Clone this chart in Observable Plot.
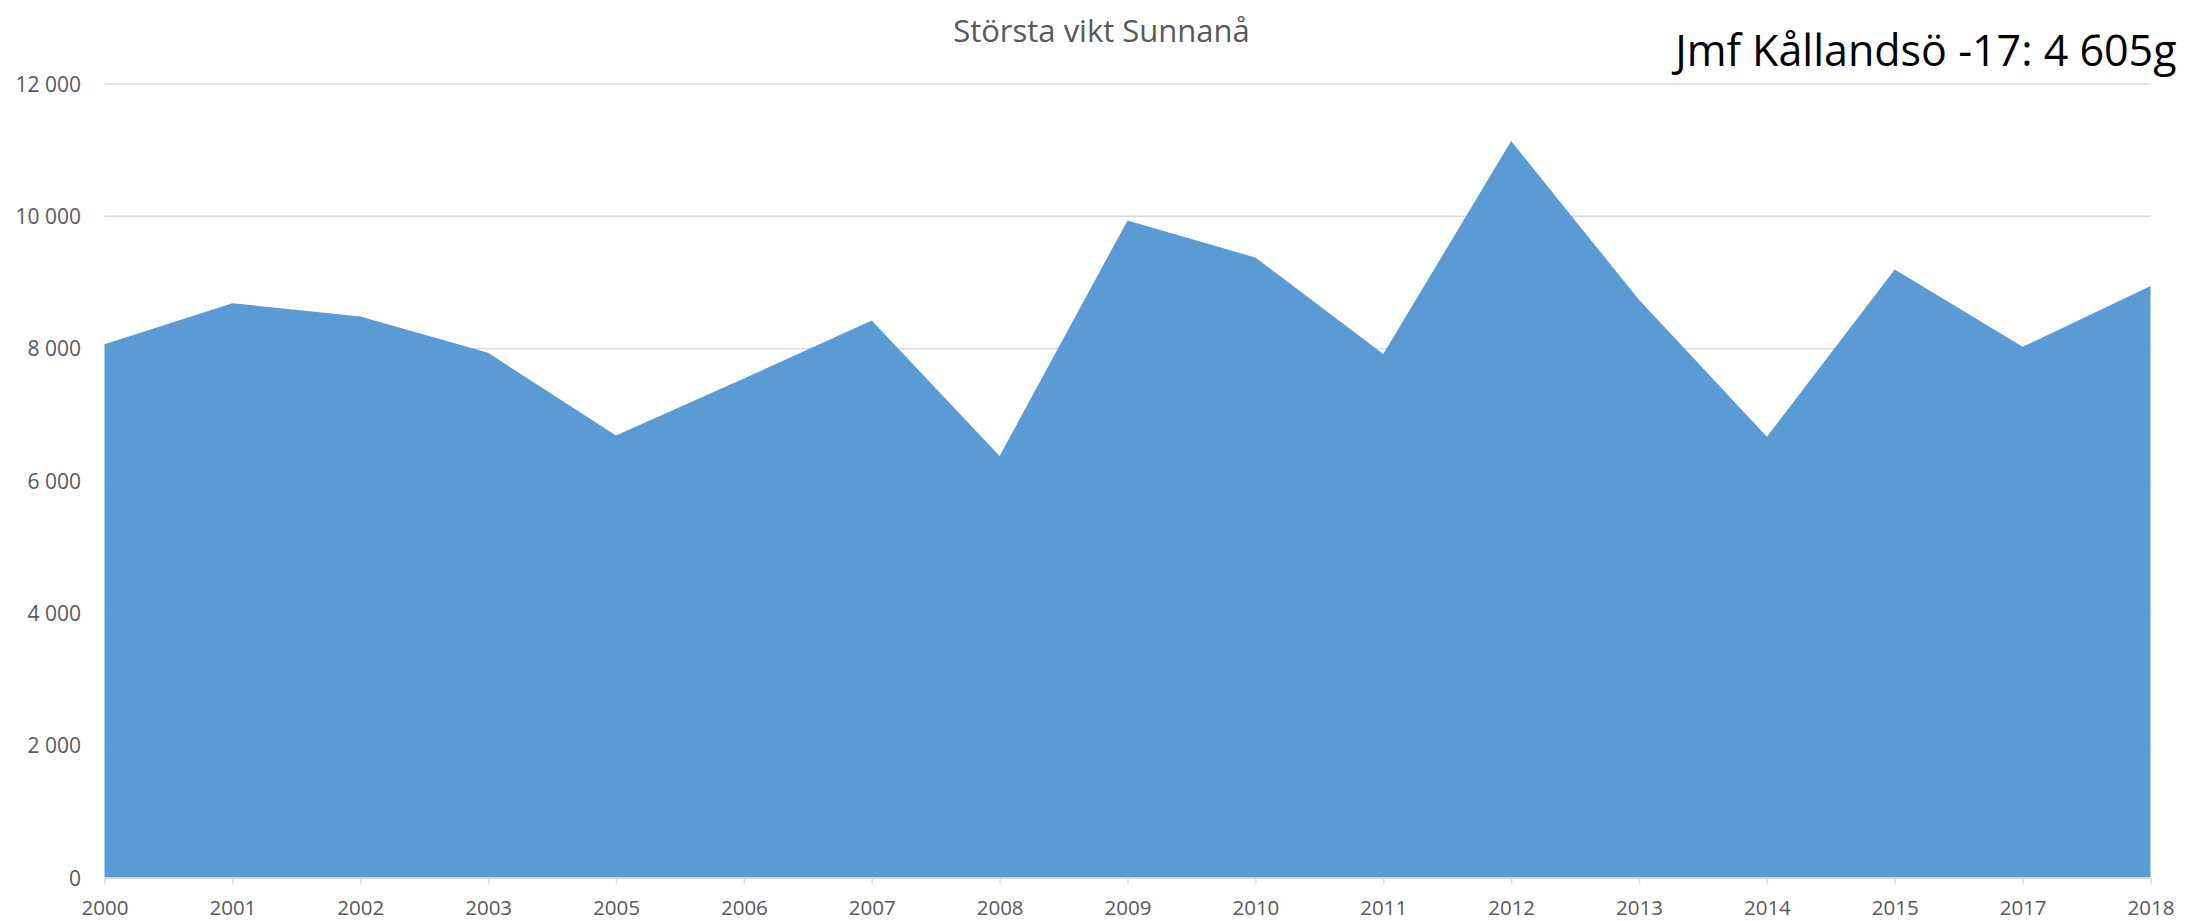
<!DOCTYPE html>
<html>
<head>
<meta charset="utf-8">
<script src="https://cdn.jsdelivr.net/npm/d3@7"></script>
<script src="https://cdn.jsdelivr.net/npm/@observablehq/plot@0.6"></script>
<style>
  html, body { margin: 0; padding: 0; background: #fff; }
  #chart svg { display: block; }
</style>
</head>
<body>
<div id="chart"></div>
<script>
// Data
const years = ["2000","2001","2002","2003","2005","2006","2007","2008","2009","2010","2011","2012","2013","2014","2015","2017","2018"];
const values = [8060, 8680, 8480, 7930, 6680, 7540, 8420, 6370, 9930, 9370, 7910, 11130, 8730, 6660, 9190, 8020, 8940];
const yTicks = [0, 2000, 4000, 6000, 8000, 10000, 12000];
const title = "Största vikt Sunnanå";
const note = "Jmf Kållandsö -17: 4 605g";

const data = years.map((year, i) => ({year, value: values[i]}));
const fmt = d3.formatLocale({decimal: ",", thousands: " ", grouping: [3], currency: ["", ""]}).format(",d");

const W = 2185, H = 921;
const chart = Plot.plot({
  width: W,
  height: H,
  marginLeft: 104.5,
  marginRight: 34.5,
  marginTop: 83.5,
  marginBottom: 43.5,
  style: {fontFamily: "'Open Sans', sans-serif", fontSize: "21px", background: "#fff", color: "#595959", overflow: "visible"},
  x: {type: "point", domain: years, padding: 0, round: false, inset: 0, label: null},
  y: {domain: [0, 12000], ticks: yTicks, label: null},
  marks: [
    Plot.gridY(yTicks, {stroke: "#d9d9d9", strokeOpacity: 1, strokeWidth: 1.5}),
    Plot.areaY(data, {x: "year", y: "value", fill: "#5B9BD5"}),
    Plot.ruleY([0], {stroke: "#d9d9d9", strokeWidth: 1.5}),
    Plot.axisY(yTicks, {tickSize: 0, tickPadding: 24, tickFormat: fmt, fontSize: 21, fill: "#595959", label: null, dy: 1}),
    Plot.axisX({tickSize: 6, tickPadding: 16, fontSize: 20.5, stroke: "#d9d9d9", strokeWidth: 1.5, fill: "#595959", label: null}),
    Plot.text([title], {frameAnchor: "top-left", dx: 996.5, dy: -51.5, text: d => d, fontSize: 31, fill: "#595959", textAnchor: "middle", lineAnchor: "middle"}),
    Plot.text([note], {frameAnchor: "top-right", dx: 25.5, dy: -32, text: d => d, fontSize: 43, fill: "#000", textAnchor: "end", lineAnchor: "middle"})
  ]
});
document.getElementById("chart").appendChild(chart);
</script>
</body>
</html>
